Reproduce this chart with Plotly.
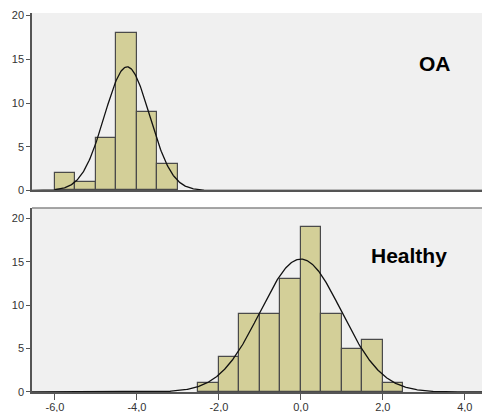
import numpy as np
import plotly.graph_objects as go
from plotly.subplots import make_subplots

# ---- data ----
bin_width = 0.5
oa_bin_starts = [-6.0, -5.5, -5.0, -4.5, -4.0, -3.5]
oa_counts = [2, 1, 6, 18, 9, 3]
healthy_bin_starts = [-2.5, -2.0, -1.5, -1.0, -0.5, 0.0, 0.5, 1.0, 1.5, 2.0]
healthy_counts = [1, 4, 9, 9, 13, 19, 9, 5, 6, 1]
oa_mean, oa_sd = -4.24, 0.55
healthy_mean, healthy_sd = 0.0, 0.99
x_tick_vals = [-6.0, -4.0, -2.0, 0.0, 2.0, 4.0]
x_tick_labels = ["-6,0", "-4,0", "-2,0", "0,0", "2,0", "4,0"]
y_tick_vals = [0, 5, 10, 15, 20]
y_tick_labels = ["0", "5", "10", "15", "20"]
panel_labels = ["OA", "Healthy"]

X_RANGE = [-6.56, 4.42]
BAR_FILL = "#d3cf98"
BAR_LINE = "#4a4a4a"
BG = "#f0f0f0"
AXIS = "#555555"

fig = make_subplots(rows=2, cols=1, shared_xaxes=False, vertical_spacing=0.0)

def normal_curve(mean, sd, n, xs):
    return n * bin_width / (sd * np.sqrt(2 * np.pi)) * np.exp(-0.5 * ((xs - mean) / sd) ** 2)

xs = np.linspace(X_RANGE[0], X_RANGE[1], 600)

for row, (starts, counts, mean, sd) in enumerate(
    [(oa_bin_starts, oa_counts, oa_mean, oa_sd),
     (healthy_bin_starts, healthy_counts, healthy_mean, healthy_sd)], start=1):
    centers = [s + bin_width / 2 for s in starts]
    fig.add_trace(go.Bar(x=centers, y=counts, width=bin_width,
                         marker=dict(color=BAR_FILL, line=dict(color=BAR_LINE, width=1.2)),
                         showlegend=False, hoverinfo="x+y"), row=row, col=1)
    fig.add_trace(go.Scatter(x=xs, y=normal_curve(mean, sd, sum(counts), xs), mode="lines",
                             line=dict(color="#111111", width=1.3), showlegend=False,
                             hoverinfo="skip"), row=row, col=1)

common_x = dict(range=X_RANGE, showgrid=False, zeroline=False, showline=True,
                linecolor=AXIS, linewidth=1.5, mirror=False, automargin=False)
fig.update_xaxes(**common_x, showticklabels=False, ticks="", row=1, col=1)
fig.update_xaxes(**common_x, tickmode="array", tickvals=x_tick_vals, ticktext=x_tick_labels,
                 ticks="outside", ticklen=6, tickcolor=AXIS, tickwidth=1.2,
                 ticklabelstandoff=-2,
                 tickfont=dict(family="Liberation Sans, Arial", size=11, color="#333333"),
                 row=2, col=1)
common_y = dict(showgrid=False, zeroline=False, showline=True, linecolor=AXIS, linewidth=1.5,
                tickmode="array", tickvals=y_tick_vals, ticktext=y_tick_labels,
                ticks="outside", ticklen=4, tickcolor=AXIS, tickwidth=1.2, automargin=False,
                tickfont=dict(family="Liberation Sans, Arial", size=11, color="#333333"))
fig.update_yaxes(**common_y, range=[0, 20.3], domain=[0.5317, 1.0], row=1, col=1)
fig.update_yaxes(**common_y, range=[0, 21.2], domain=[0.0, 0.4855], row=2, col=1)

# top border of lower panel
fig.add_shape(type="line", xref="x2 domain", yref="y2 domain", x0=0, x1=1, y0=1, y1=1,
              line=dict(color="#888888", width=1.5))

fig.add_annotation(x=3.27, y=14.5, xref="x", yref="y", text="<b>%s</b>" % panel_labels[0],
                   showarrow=False, font=dict(family="Liberation Sans, Arial", size=21, color="#000000"))
fig.add_annotation(x=2.63, y=15.7, xref="x2", yref="y2", text="<b>%s</b>" % panel_labels[1],
                   showarrow=False, font=dict(family="Liberation Sans, Arial", size=21, color="#000000"))

fig.update_layout(width=482, height=412, margin=dict(l=32, r=0, t=13, b=20),
                  paper_bgcolor="white", plot_bgcolor=BG, bargap=0, barmode="overlay")

fig.write_html("out.html", config={"displayModeBar": False},
               post_script="document.body.style.margin='0';document.body.style.overflow='hidden';")
